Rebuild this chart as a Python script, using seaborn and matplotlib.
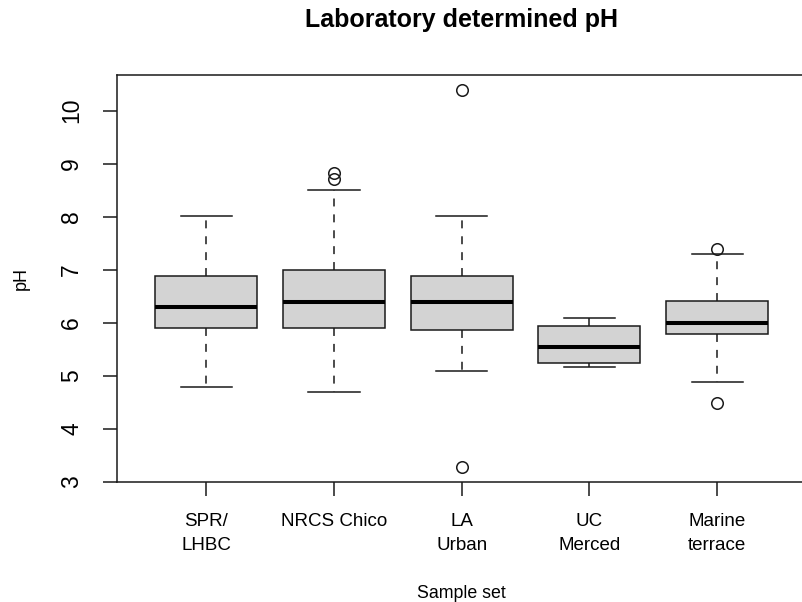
import matplotlib
matplotlib.use("Agg")
import matplotlib.pyplot as plt
import numpy as np
import pandas as pd
import seaborn as sns

# Sample sets and their boxplot summaries (pH units)
groups = ["SPR/\nLHBC", "NRCS Chico", "LA\nUrban", "UC\nMerced", "Marine\nterrace"]
lower_whisker = [4.79, 4.70, 5.09, 5.17, 4.89]
q1 = [5.91, 5.90, 5.86, 5.24, 5.79]
median = [6.30, 6.40, 6.39, 5.55, 6.00]
q3 = [6.88, 7.00, 6.89, 5.94, 6.41]
upper_whisker = [8.02, 8.50, 8.01, 6.09, 7.30]
outliers = [[], [8.72, 8.82], [3.28, 10.38], [], [4.49, 7.40]]
y_ticks = [3, 4, 5, 6, 7, 8, 9, 10]

# Expand each summary into a sample whose quartiles, whisker ends and
# outliers reproduce it under the usual 1.5 * IQR rule.
K = 20
rows = []
for g, lo, a, m, b, hi, out in zip(groups, lower_whisker, q1, median, q3,
                                   upper_whisker, outliers):
    vals = [lo] + [a] * K + [m] * K + [b] * K + [hi] + list(out)
    rows += [(g, v) for v in vals]
df = pd.DataFrame(rows, columns=["set", "pH"])

plt.rcParams["font.family"] = ["Liberation Sans", "DejaVu Sans"]

fig = plt.figure(figsize=(8.02, 6.02), dpi=100)
ax = fig.add_axes([116.9 / 802, 1 - 482.2 / 602,
                   (806.5 - 116.9) / 802, (482.2 - 75.4) / 602])

ink = "#1a1a1a"
sns.boxplot(
    data=df, x="set", y="pH", order=groups, ax=ax,
    width=0.8, color="#d3d3d3", saturation=1, linecolor=ink, linewidth=1.1,
    whis=1.5, fliersize=8.3,
    flierprops=dict(marker="o", markerfacecolor="none",
                    markeredgecolor=ink, markeredgewidth=1.1),
    medianprops=dict(color="black", linewidth=2.9),
    whiskerprops=dict(linestyle=(0, (5.2, 5.2))),
)

lo_all = min(min(lower_whisker), min(min(o) for o in outliers if o))
hi_all = max(max(upper_whisker), max(max(o) for o in outliers if o))
pad = 0.04 * (hi_all - lo_all)
ax.set_ylim(lo_all - pad, hi_all + pad)
ax.set_xlim(-0.7, 4.7)

ax.set_yticks(y_ticks)
ax.set_yticklabels([str(t) for t in y_ticks], rotation=90, va="center",
                   fontsize=16.5)
ax.tick_params(axis="both", length=10.4, width=1.1, color=ink)
ax.tick_params(axis="y", pad=14)
ax.tick_params(axis="x", pad=12, labelsize=13.5)
for lab in ax.get_xticklabels():
    lab.set_linespacing(1.55)

for sp in ax.spines.values():
    sp.set_color(ink)
    sp.set_linewidth(1.1)

ax.set_xlabel("Sample set", fontsize=12.8, labelpad=22)
ax.set_ylabel("pH", fontsize=13, labelpad=22)
fig.text(461.5 / 802, 1 - 27 / 602, "Laboratory determined pH",
         ha="center", va="baseline", fontsize=18, fontweight="bold")

fig.savefig("out.png", dpi=100)
